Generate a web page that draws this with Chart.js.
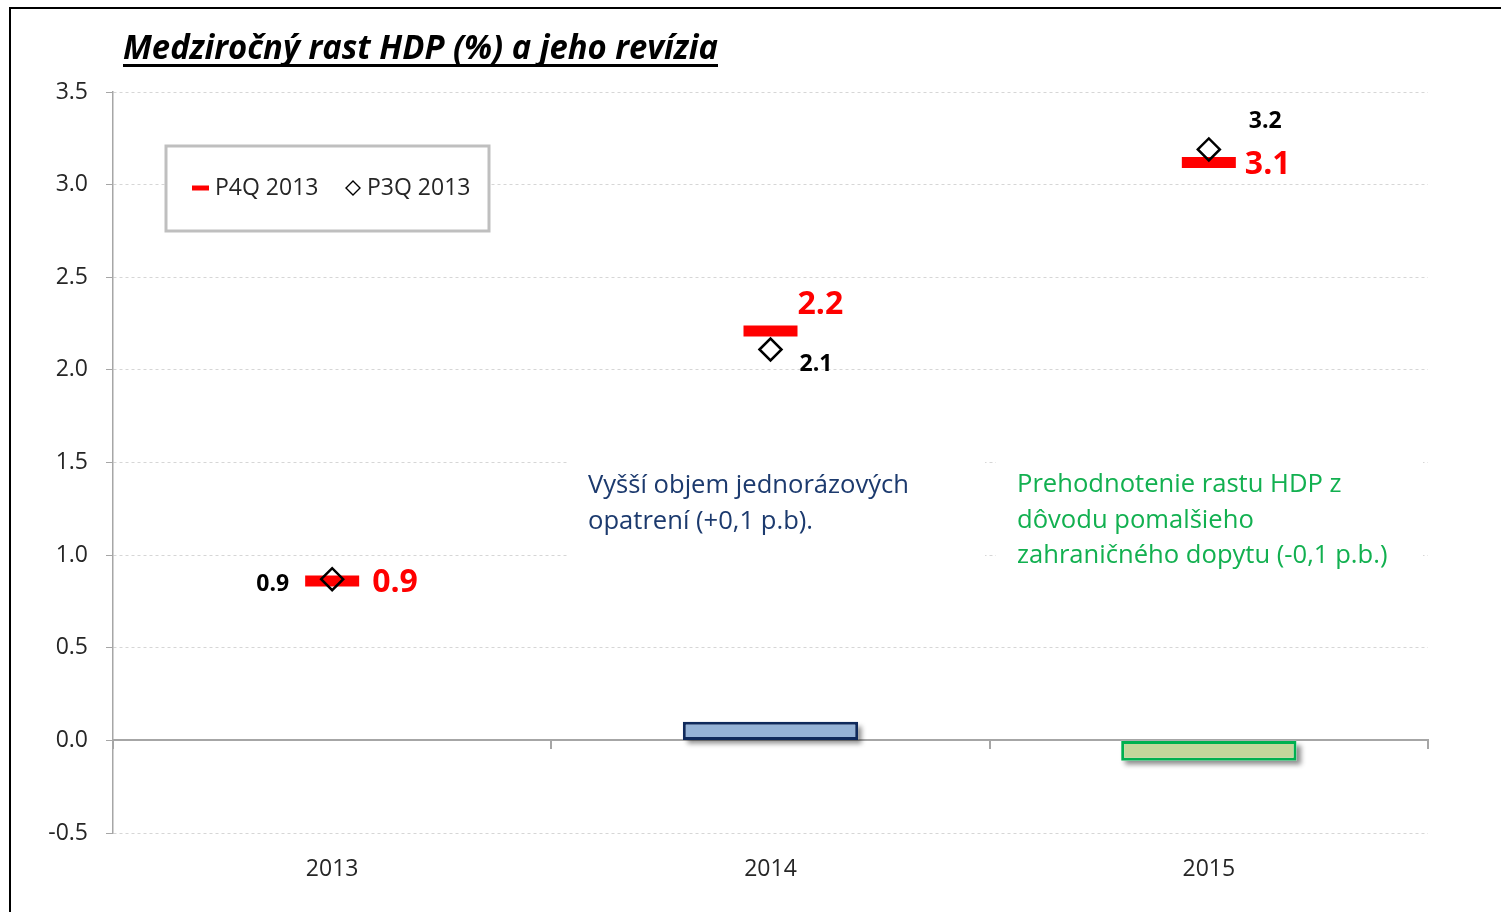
<!DOCTYPE html>
<html>
<head>
<meta charset="utf-8">
<title>Medziročný rast HDP</title>
<script src="https://cdn.jsdelivr.net/npm/chart.js@4.4.0/dist/chart.umd.min.js"></script>
<style>
    html, body { margin: 0; padding: 0; background: #fff; }
    #wrap { position: relative; width: 1501px; height: 912px; overflow: hidden; }
    #frame {
        position: absolute; left: 9px; top: 7px; right: -5px; bottom: -5px;
        border-left: 2px solid #000; border-top: 2px solid #000;
        pointer-events: none;
    }
</style>
</head>
<body>
<div id="wrap">
    <canvas id="gdp-chart" width="1501" height="912"></canvas>
    <div id="frame"></div>
</div>
<script>
// data
const years = ['2013', '2014', '2015'];
const p4q2013 = [0.86, 2.21, 3.12];
const p3q2013 = [0.87, 2.11, 3.19];
const revision = [null, 0.1, -0.11];
const yRange = [-0.5, 3.5];
const yStep = 0.5;

const seriesNames = ['P4Q 2013', 'P3Q 2013'];
const titleText = 'Medziročný rast HDP (%) a jeho revízia';
const noteUp = ['Vyšší objem jednorázových', 'opatrení (+0,1 p.b).'];
const noteDown = ['Prehodnotenie rastu HDP z', 'dôvodu pomalšieho', 'zahraničného dopytu (-0,1 p.b.)'];

const FONT = "'Open Sans', sans-serif";
Chart.defaults.font.family = FONT;

const barShadow = {
    id: 'barShadow',
    beforeDatasetDraw(chart, args) {
        if (chart.data.datasets[args.index].type !== 'bar') {
            return;
        }
        const ctx = chart.ctx;
        args.meta.data.forEach((bar) => {
            const { x, y, base, width } = bar.getProps(['x', 'y', 'base', 'width'], true);
            if (Math.abs(base - y) < 1) {
                return;
            }
            ctx.save();
            ctx.shadowColor = 'rgba(0,0,0,0.45)';
            ctx.shadowBlur = 5;
            ctx.shadowOffsetX = 4;
            ctx.shadowOffsetY = 4;
            ctx.fillStyle = '#ffffff';
            ctx.fillRect(x - width / 2, Math.min(y, base), width, Math.abs(base - y));
            ctx.restore();
        });
    },
};

const boxes = {
    id: 'boxes',
    beforeDatasetsDraw(chart, args, opts) {
        const ctx = chart.ctx;

        // notes
        opts.notes.forEach((n) => {
            ctx.save();
            ctx.fillStyle = '#ffffff';
            ctx.fillRect(n.box[0], n.box[1], n.box[2], n.box[3]);
            ctx.fillStyle = n.color;
            ctx.font = `25.6px ${FONT}`;
            ctx.textBaseline = 'middle';
            n.lines.forEach((line, i) => {
                ctx.fillText(line, n.x, n.y + i * n.lineHeight);
            });
            ctx.restore();
        });

        // legend
        const lg = opts.legend;
        ctx.save();
        ctx.fillStyle = '#ffffff';
        ctx.fillRect(lg.box[0], lg.box[1], lg.box[2], lg.box[3]);
        ctx.strokeStyle = '#bfbfbf';
        ctx.lineWidth = 3;
        ctx.strokeRect(lg.box[0], lg.box[1], lg.box[2], lg.box[3]);

        const red = chart.data.datasets[0];
        const dia = chart.data.datasets[1];
        ctx.strokeStyle = red.pointBorderColor;
        ctx.lineWidth = 5;
        ctx.beginPath();
        ctx.moveTo(lg.y0x, lg.cy);
        ctx.lineTo(lg.y0x + 17, lg.cy);
        ctx.stroke();

        ctx.strokeStyle = dia.pointBorderColor;
        ctx.lineWidth = 1.4;
        ctx.beginPath();
        ctx.moveTo(lg.y1x - 7, lg.cy);
        ctx.lineTo(lg.y1x, lg.cy - 7);
        ctx.lineTo(lg.y1x + 7, lg.cy);
        ctx.lineTo(lg.y1x, lg.cy + 7);
        ctx.closePath();
        ctx.stroke();

        ctx.fillStyle = '#262626';
        ctx.font = `23px ${FONT}`;
        ctx.textBaseline = 'middle';
        ctx.fillText(red.label, lg.y0x + 23, lg.cy);
        ctx.fillText(dia.label, lg.y1x + 14, lg.cy);
        ctx.restore();
    },
};

const pointLabels = {
    id: 'pointLabels',
    afterDatasetsDraw(chart, args, opts) {
        const ctx = chart.ctx;
        opts.items.forEach((item) => {
            const meta = chart.getDatasetMeta(item.dataset);
            const values = chart.data.datasets[item.dataset].data;
            meta.data.forEach((pt, i) => {
                if (values[i] === null) {
                    return;
                }
                const off = item.offsets[i];
                ctx.save();
                ctx.font = item.font;
                ctx.fillStyle = item.color;
                ctx.textAlign = off[2];
                ctx.textBaseline = 'middle';
                ctx.fillText(values[i].toFixed(1), pt.x + off[0], pt.y + off[1]);
                ctx.restore();
            });
        });
    },
};

const chartTitle = {
    id: 'chartTitle',
    afterDraw(chart, args, opts) {
        const ctx = chart.ctx;
        ctx.save();
        ctx.font = `italic bold 34px ${FONT}`;
        ctx.fillStyle = '#000';
        ctx.textBaseline = 'alphabetic';
        const w = Math.min(ctx.measureText(opts.text).width, opts.width);
        ctx.fillText(opts.text, opts.x, opts.y, opts.width);
        ctx.fillRect(opts.x, opts.y + 5, w, 3);
        ctx.restore();
    },
};

const ctx = document.getElementById('gdp-chart');

new Chart(ctx, {
    type: 'bar',
    data: {
        labels: years,
        datasets: [
            {
                type: 'line',
                label: seriesNames[0],
                data: p4q2013,
                showLine: false,
                order: 1,
                pointStyle: 'line',
                pointRadius: 27,
                pointHoverRadius: 27,
                pointBorderWidth: 11,
                pointHoverBorderWidth: 11,
                pointBorderColor: '#ff0000',
                pointBackgroundColor: '#ff0000',
            },
            {
                type: 'line',
                label: seriesNames[1],
                data: p3q2013,
                showLine: false,
                order: 0,
                pointStyle: 'rectRot',
                pointRadius: 11,
                pointHoverRadius: 11,
                pointBorderWidth: 2.5,
                pointHoverBorderWidth: 2.5,
                pointBorderColor: '#000000',
                pointBackgroundColor: 'rgba(0,0,0,0)',
            },
            {
                type: 'bar',
                label: 'revízia',
                data: revision,
                order: 2,
                backgroundColor: ['#95b3d7', '#95b3d7', '#c3d69b'],
                borderColor: ['#0f2a5c', '#0f2a5c', '#00b050'],
                borderWidth: 3,
                borderSkipped: false,
                barPercentage: 0.4,
                categoryPercentage: 1,
            },
        ],
    },
    options: {
        responsive: false,
        animation: false,
        events: [],
        layout: {
            padding: { top: 92, right: 73, left: 0, bottom: 0 },
        },
        scales: {
            x: {
                grid: { display: false, drawTicks: false },
                border: { display: false },
                ticks: {
                    color: '#262626',
                    font: { size: 23 },
                    padding: 23,
                },
                afterFit(scale) {
                    scale.height = 79;
                },
            },
            x2: {
                type: 'category',
                position: { y: 0 },
                offset: true,
                grid: {
                    offset: true,
                    drawOnChartArea: false,
                    tickLength: 8,
                    color: '#a6a6a6',
                    lineWidth: 2,
                },
                border: { color: '#a6a6a6', width: 2 },
                ticks: { display: false },
            },
            y: {
                min: yRange[0],
                max: yRange[1],
                ticks: {
                    stepSize: yStep,
                    callback: (v) => Number(v).toFixed(1),
                    padding: 18,
                    color: '#262626',
                    font: { size: 23 },
                },
                grid: {
                    color: '#d6d6d6',
                    lineWidth: 1,
                    tickColor: '#a6a6a6',
                    tickLength: 7,
                },
                border: { color: '#a6a6a6', width: 1.5, dash: [3, 3] },
                afterFit(scale) {
                    scale.width = 113;
                },
            },
        },
        plugins: {
            legend: { display: false },
            title: { display: false },
            tooltip: { enabled: false },
            boxes: {
                legend: { box: [166, 146, 323, 85], cy: 188, y0x: 192, y1x: 353 },
                notes: [
                    { box: [567, 452, 418, 130], x: 588, y: 486, lineHeight: 35.5, lines: noteUp, color: '#1c3a6e' },
                    { box: [996, 452, 427, 140], x: 1017, y: 485, lineHeight: 35.5, lines: noteDown, color: '#12b050' },
                ],
            },
            pointLabels: {
                items: [
                    {
                        dataset: 0,
                        color: '#ff0000',
                        font: `bold 32px ${FONT}`,
                        offsets: [[40, 2, 'left'], [27, -26, 'left'], [36, 2, 'left']],
                    },
                    {
                        dataset: 1,
                        color: '#000000',
                        font: `bold 23px ${FONT}`,
                        offsets: [[-43, 5, 'right'], [29, 15, 'left'], [40, -28, 'left']],
                    },
                ],
            },
            chartTitle: { text: titleText, x: 123, y: 59, width: 595 },
        },
    },
    plugins: [barShadow, boxes, pointLabels, chartTitle],
});
</script>
</body>
</html>
